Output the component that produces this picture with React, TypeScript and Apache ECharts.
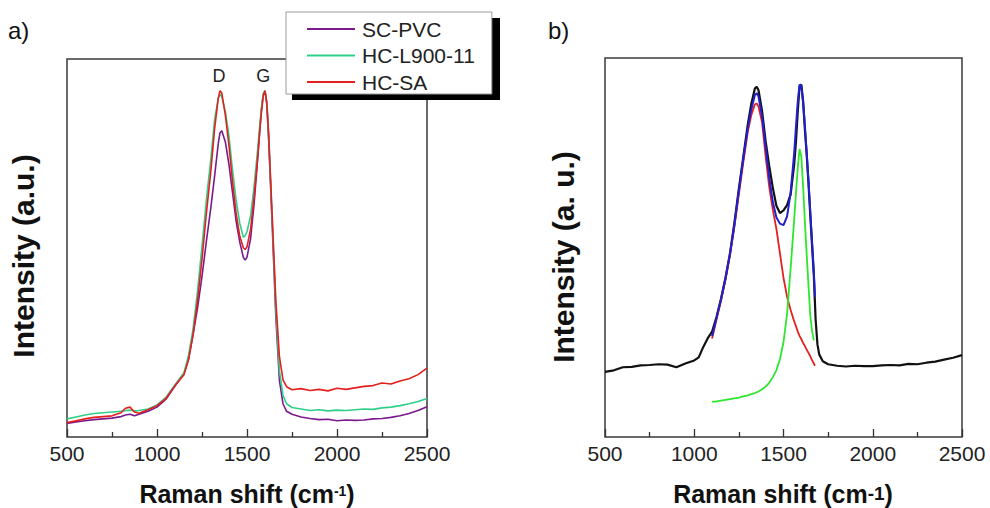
import React, { useEffect, useRef } from "react";
import * as echarts from "echarts";

const FONT = '"Liberation Sans", Arial, Helvetica, sans-serif';

// ---------- Panel a ----------
const A_X = [500, 550, 600, 650, 700, 750, 800, 825, 850, 875, 900, 950, 1000, 1050, 1100, 1150, 1175, 1200, 1225, 1250, 1275, 1300, 1320, 1340, 1350, 1360, 1380, 1400, 1420, 1440, 1460, 1480, 1490, 1500, 1520, 1540, 1560, 1570, 1580, 1590, 1600, 1610, 1620, 1640, 1660, 1680, 1700, 1720, 1750, 1800, 1850, 1900, 1950, 2000, 2050, 2100, 2150, 2200, 2250, 2300, 2350, 2400, 2450, 2500];
const SC_PVC = [3.6, 4.0, 4.3, 4.6, 4.8, 5.0, 5.4, 5.8, 6.0, 5.6, 6.0, 6.8, 7.9, 10, 13.5, 16.8, 20.5, 27, 34, 42.5, 52, 61, 69, 77.5, 80.5, 81, 78, 72, 64.5, 57, 51.5, 47.5, 46.8, 47.6, 52.5, 62, 74, 80.5, 86.5, 90.5, 91.6, 88, 79, 56, 32, 15, 8.8, 6.8, 6.0, 5.3, 4.9, 4.6, 4.7, 4.3, 4.5, 4.4, 4.5, 4.8, 4.9, 5.2, 5.6, 6.2, 7.0, 8.0];
const HC_L900 = [4.8, 5.3, 5.8, 6.2, 6.4, 6.6, 6.8, 7.0, 7.1, 6.9, 7.0, 7.4, 8.5, 10.5, 13.8, 17, 21.5, 28.5, 38.5, 50.5, 63, 74, 84, 89.5, 90.7, 90, 86, 79.5, 70.5, 62.5, 56.5, 52.8, 53.3, 54.3, 58.5, 66.5, 76.5, 82, 87, 90.8, 91.6, 88.5, 80, 57.5, 34, 17.5, 11, 8.8, 7.8, 7.4, 7.0, 7.2, 6.9, 7.1, 7.0, 7.2, 7.4, 7.3, 7.7, 7.9, 8.3, 8.8, 9.4, 10.2];
const HC_SA = [3.8, 4.3, 4.8, 5.2, 5.4, 5.6, 6.4, 7.6, 7.9, 6.6, 6.3, 7.2, 8.3, 10.2, 13.6, 16.5, 20.5, 27, 36, 47, 59.5, 70.8, 81.5, 89.5, 91.6, 91, 85, 77, 67.3, 59, 53.1, 50, 49.6, 50.3, 55, 63.8, 74.4, 80.5, 85.8, 90.2, 91.6, 88.5, 80.5, 58.4, 36.3, 21.3, 15.1, 13.3, 12.5, 12.8, 12.3, 12.6, 12.2, 12.9, 12.6, 13.0, 13.4, 13.6, 14.3, 14.0, 14.8, 15.4, 16.5, 18.2];
const A_NAMES = ["SC-PVC", "HC-L900-11", "HC-SA"];
const PEAK_NAMES = ["D", "G"];
const PEAK_X = [1345, 1590];
const PEAK_LABEL_Y = 95.5;

// ---------- Panel b ----------
const B_X = [500, 550, 600, 650, 700, 750, 800, 850, 900, 950, 1000, 1025, 1050, 1075, 1100, 1125, 1150, 1175, 1200, 1225, 1250, 1275, 1300, 1320, 1340, 1350, 1360, 1380, 1400, 1420, 1440, 1460, 1480, 1500, 1520, 1540, 1560, 1570, 1580, 1590, 1600, 1610, 1620, 1630, 1640, 1650, 1660, 1670, 1680, 1690, 1700, 1720, 1750, 1800, 1850, 1900, 1950, 2000, 2050, 2100, 2150, 2200, 2250, 2300, 2350, 2400, 2450, 2500];
const B_DATA = [17.2, 17.6, 18.4, 18.5, 18.9, 19.0, 19.2, 19.1, 18.4, 19.4, 20.2, 21.0, 23.7, 26.0, 27.8, 31.7, 36.5, 42, 48.4, 56.5, 65.5, 74, 82.5, 88, 92, 92.4, 91.5, 86, 78, 71.5, 65.8, 61, 59.1, 59.8, 61.2, 64, 72, 78, 86, 92.5, 93, 88.5, 81, 74.5, 67, 58.5, 50.5, 42.5, 31, 24.5, 21.8, 20.0, 19.2, 18.8, 18.6, 18.8, 18.7, 18.7, 18.9, 19.0, 18.9, 19.3, 19.2, 19.6, 19.9, 20.4, 20.9, 21.6];
const FIT_X = [1100, 1125, 1150, 1175, 1200, 1225, 1250, 1275, 1300, 1320, 1340, 1350, 1360, 1380, 1400, 1420, 1440, 1460, 1480, 1500, 1520, 1540, 1560, 1570, 1580, 1590, 1600, 1610, 1620, 1630, 1640, 1650, 1660, 1670, 1676];
const FIT_SUM = [26.6, 31.5, 36.3, 41.8, 48.2, 56, 65, 73.5, 81.5, 86.5, 90.3, 90.7, 89.8, 84.5, 76.5, 68.5, 62, 58, 56.3, 55.9, 58.2, 64.5, 75, 82, 88.5, 93, 92.5, 88.3, 82, 74.9, 67.5, 59.5, 51.5, 43.5, 37];
const FIT_D = [26, 31, 36, 41.5, 48, 55.5, 64, 72.5, 80.5, 85, 87.8, 88, 87.2, 83, 74, 66, 60, 55, 48.5, 42, 37, 33.5, 30.5, 29.2, 27.8, 26.7, 25.8, 24.8, 24, 23, 22.2, 21.3, 20.3, 19.4, 18.8];
const FIT_G = [9.3, 9.4, 9.6, 9.8, 10.0, 10.2, 10.4, 10.7, 11.0, 11.3, 11.6, 11.8, 12.0, 12.6, 13.3, 14.3, 15.8, 17.6, 20.5, 25, 32.5, 44.5, 57.5, 64.5, 71, 76, 74, 66, 56.5, 48, 40, 32, 28, 25.5, null];

const X_TICKS = { min: 500, max: 2500, interval: 500 };

const pair = (xs: number[], ys: (number | null)[]) =>
  xs.map((x, i) => [x, ys[i]]).filter((p) => p[1] !== null);

export default function App() {
  const ref = useRef<HTMLDivElement>(null);
  useEffect(() => {
    if (!ref.current) return;
    const chart = echarts.init(ref.current, null, { renderer: "svg" });

    const xAxisFor = (gi: number) => ({
      type: "value",
      gridIndex: gi,
      min: X_TICKS.min,
      max: X_TICKS.max,
      interval: X_TICKS.interval,
      axisLine: { show: false },
      axisTick: { show: true, inside: true, length: 8, lineStyle: { color: "#333", width: 1.3 } },
      minorTick: { show: true, splitNumber: 2, length: 5, lineStyle: { color: "#333", width: 1.3 } },
      splitLine: { show: false },
      minorSplitLine: { show: false },
      axisLabel: { fontSize: 21, color: "#222", margin: 6, fontFamily: FONT, formatter: (v: number) => String(v) },
    });
    const yAxisFor = (gi: number) => ({
      type: "value",
      gridIndex: gi,
      min: 0,
      max: 100,
      axisLine: { show: false },
      axisTick: { show: false },
      axisLabel: { show: false },
      splitLine: { show: false },
    });
    const line = (name: string, data: any[], color: string, gi: number, width: number, extra: any = {}) => ({
      name,
      type: "line",
      xAxisIndex: gi,
      yAxisIndex: gi,
      data,
      showSymbol: false,
      symbol: "none",
      color,
      lineStyle: { color, width },
      emphasis: { disabled: true },
      ...extra,
    });

    // x-axis title built from three plain texts (main, superscript, closing bracket)
    const MAIN = "Raman shift (cm";
    const mainW = 194.5; // 25px bold width of MAIN
    const closeW = 8.3;
    const xTitle = (cx: number, cy: number, supSize: number) => {
      const supW = 0.889 * supSize;
      const left = cx - (mainW + supW + closeW) / 2;
      const bold = { fontWeight: "bold", fontFamily: FONT, fill: "#111" };
      return [
        { type: "text", x: left, y: cy, style: { text: MAIN, fontSize: 25, ...bold, align: "left", verticalAlign: "middle" } },
        { type: "text", x: left + mainW, y: cy - 10, style: { text: "-1", fontSize: supSize, ...bold, align: "left", verticalAlign: "top" } },
        { type: "text", x: left + mainW + supW, y: cy, style: { text: ")", fontSize: 25, ...bold, align: "left", verticalAlign: "middle" } },
      ];
    };

    const option: any = {
      animation: false,
      backgroundColor: "#ffffff",
      grid: [
        { left: 67, top: 59, width: 360, height: 378, show: true, borderColor: "#3a3a3a", borderWidth: 1.5, backgroundColor: "transparent" },
        { left: 605, top: 58, width: 357, height: 379, show: true, borderColor: "#3a3a3a", borderWidth: 1.5, backgroundColor: "transparent" },
      ],
      xAxis: [xAxisFor(0), xAxisFor(1)],
      yAxis: [yAxisFor(0), yAxisFor(1)],
      legend: {
        data: A_NAMES,
        orient: "vertical",
        left: 286,
        top: 12,
        padding: [5, 17, 0, 21],
        itemGap: 2.5,
        itemWidth: 48,
        itemHeight: 2,
        icon: "rect",
        backgroundColor: "#ffffff",
        borderColor: "#9a9a9a",
        borderWidth: 1,
        z: 10,
        textStyle: { fontSize: 21, color: "#222", fontFamily: FONT, lineHeight: 24, padding: [0, 0, 0, 2] },
      },
      series: [
        line(A_NAMES[0], pair(A_X, SC_PVC), "#7a1a8c", 0, 1.6),
        line(A_NAMES[1], pair(A_X, HC_L900), "#2fcf8a", 0, 1.6),
        line(A_NAMES[2], pair(A_X, HC_SA), "#e4201e", 0, 1.6, {
          markPoint: {
            symbol: "rect",
            symbolSize: 0,
            silent: true,
            label: { show: true, position: "inside", formatter: "{b}", fontSize: 18, color: "#222", fontFamily: FONT },
            data: PEAK_NAMES.map((n, i) => ({ name: n, coord: [PEAK_X[i], PEAK_LABEL_Y] })),
          },
        }),
        line("data", pair(B_X, B_DATA), "#111111", 1, 2.2),
        line("D fit", pair(FIT_X, FIT_D), "#e3211f", 1, 1.8),
        line("G fit", pair(FIT_X, FIT_G), "#2ee62e", 1, 1.8),
        line("sum fit", pair(FIT_X, FIT_SUM), "#2020d0", 1, 2),
      ],
      graphic: [
        { type: "rect", z: 9, shape: { x: 292, y: 18, width: 208, height: 82 }, style: { fill: "#000" } },
        { type: "text", x: 8, y: 30, style: { text: "a)", fontSize: 24, fontFamily: FONT, fill: "#111", verticalAlign: "middle" } },
        { type: "text", x: 548, y: 30, style: { text: "b)", fontSize: 24, fontFamily: FONT, fill: "#111", verticalAlign: "middle" } },
        {
          type: "text", x: 23, y: 256, rotation: Math.PI / 2,
          style: { text: "Intensity (a.u.)", fontSize: 30, fontWeight: "bold", fontFamily: FONT, fill: "#111", align: "center", verticalAlign: "middle" },
        },
        {
          type: "text", x: 563, y: 257, rotation: Math.PI / 2,
          style: { text: "Intensity (a. u.)", fontSize: 30, fontWeight: "bold", fontFamily: FONT, fill: "#111", align: "center", verticalAlign: "middle" },
        },
        ...xTitle(247, 494, 14),
        ...xTitle(783, 494, 19),
      ],
    };
    chart.setOption(option);
    return () => chart.dispose();
  }, []);
  return <div ref={ref} style={{ position: "fixed", left: 0, top: 0, width: 990, height: 508, background: "#fff" }} />;
}
